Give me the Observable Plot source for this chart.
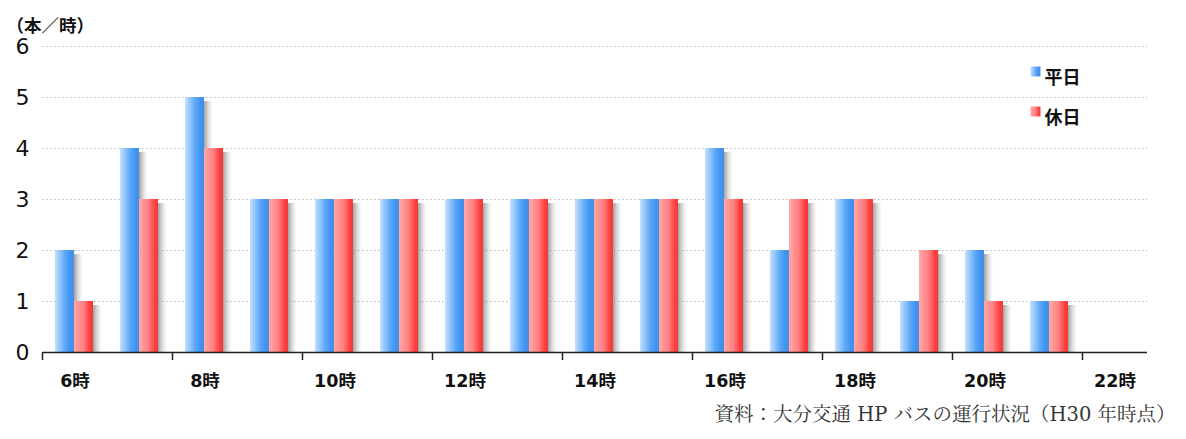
<!DOCTYPE html>
<html><head><meta charset="utf-8">
<script src="https://cdn.jsdelivr.net/npm/d3@7"></script>
<script src="https://cdn.jsdelivr.net/npm/@observablehq/plot@0.6"></script>
<style>body{margin:0;background:#fff;} svg{display:block;}</style>
</head><body><div id="chart"></div>
<script>
const hours = [6,7,8,9,10,11,12,13,14,15,16,17,18,19,20,21,22];
const weekday = [2,4,5,3,3,3,3,3,3,3,4,2,3,1,2,1,null];
const holiday = [1,3,4,3,3,3,3,3,3,3,3,3,3,2,1,1,null];
const seriesNames = ["平日","休日"];
const labelHours = [6,8,10,12,14,16,18,20,22];
const yTicks = [0,1,2,3,4,5,6];
const yUnit = "（本／時）";
const caption = "資料：大分交通 HP バスの運行状況（H30 年時点）";

const rows = hours.map((h,i)=>({hour:h, weekday:weekday[i], holiday:holiday[i]})).filter(d=>d.weekday!=null);
const jp = "'DejaVu Sans','Noto Sans CJK JP',sans-serif";
const gradOf = {"平日": "url(#blueGrad)", "休日": "url(#redGrad)"};

const legendMarks = seriesNames.flatMap((s, i) => [
  Plot.dot([s], {frameAnchor: "top-right", dx: -112, dy: 25 + 40 * i, symbol: "square", r: 5.6, fill: gradOf[s], stroke: null}),
  Plot.text([s], {text: d => d, frameAnchor: "top-right", dx: -103, dy: 25 + 40 * i, textAnchor: "start", fontSize: 18, fontWeight: "bold"})
]);

const chart = Plot.plot({
  width: 1186, height: 439,
  marginTop: 46, marginBottom: 87, marginLeft: 42, marginRight: 39,
  x: {type: "band", domain: hours, padding: 0},
  y: {domain: [0,6]},
  style: {fontFamily: jp, color: "#111", background: "#fff"},
  marks: [
    Plot.gridY(yTicks.filter(d=>d>0), {stroke: "#b8b8b8", strokeOpacity: 1, strokeDasharray: "1.5,2.5"}),
    Plot.axisY({ticks: yTicks, tickSize: 0, tickPadding: 13, fontSize: 22, fill: "#111", tickFormat: d => String(d), label: null}),
    Plot.axisX({ticks: labelHours, tickSize: 0, tickPadding: 22, fontSize: 17.5, fontWeight: "bold", tickFormat: d => d + "時", label: null}),
    // shadows
    Plot.barY(rows, {x: "hour", y: "weekday", insetLeft: 32, insetRight: 24, insetTop: 4, fill: "url(#shadowGrad)"}),
    Plot.barY(rows, {x: "hour", y: "weekday", insetLeft: 13, insetRight: 33, fill: "url(#blueGrad)"}),
    Plot.barY(rows, {x: "hour", y: "holiday", insetLeft: 51, insetRight: 5, insetTop: 4, fill: "url(#shadowGrad)"}),
    Plot.barY(rows, {x: "hour", y: "holiday", insetLeft: 32, insetRight: 14, fill: "url(#redGrad)"}),
    Plot.ruleY([0], {stroke: "#222", strokeWidth: 1.5}),
    Plot.ruleX(labelHours, {x: d => d, dx: -32.5, insetTop: 306, insetBottom: -8, stroke: "#222", strokeWidth: 1.5}),
    // title
    Plot.text([yUnit], {text: d => d, frameAnchor: "top-left", dx: -36, dy: -27, textAnchor: "start", fontSize: 17.5, fontWeight: "bold"}),
    ...legendMarks,
    // caption
    Plot.text([caption], {text: d => d, frameAnchor: "bottom-right", dx: 28, dy: 68, textAnchor: "end", fontSize: 19.5, fontFamily: "'DejaVu Serif','Noto Serif CJK JP','Noto Sans CJK JP',serif", fill: "#333"})
  ]
});

const defs = d3.select(chart).insert("defs", ":first-child");
function grad(id, stops){
  const g = defs.append("linearGradient").attr("id", id).attr("x1","0").attr("x2","1").attr("y1","0").attr("y2","0");
  stops.forEach(([o,c,op]) => g.append("stop").attr("offset", o).attr("stop-color", c).attr("stop-opacity", op ?? 1));
}
grad("blueGrad", [["0%","#c4e0fd"],["55%","#5aa6f7"],["85%","#3d92f2"],["100%","#4b8fe0"]]);
grad("redGrad", [["0%","#ffa8a8"],["50%","#ff7f80"],["85%","#ff3c3c"],["100%","#ef3a3a"]]);
grad("shadowGrad", [["0%","#808080",0.75],["100%","#c8c8c8",0]]);

document.getElementById("chart").appendChild(chart);
</script>
</body></html>
